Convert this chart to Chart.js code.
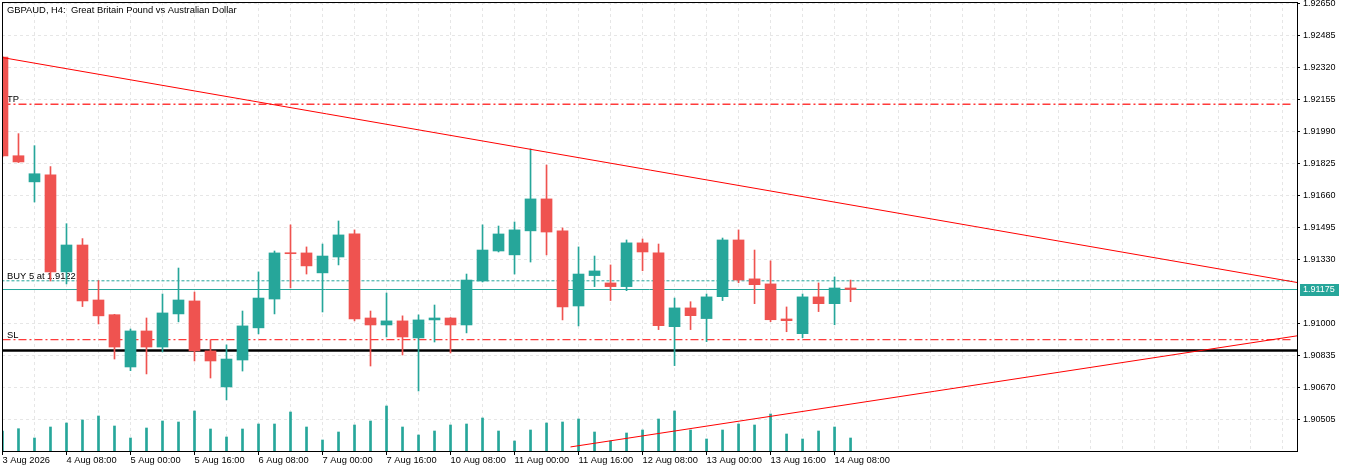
<!DOCTYPE html>
<html>
<head>
<meta charset="utf-8">
<title>GBPAUD H4</title>
<script src="https://cdn.jsdelivr.net/npm/chart.js@4.4.1/dist/chart.umd.min.js"></script>
<style>
  html, body { margin: 0; padding: 0; background: #fff; }
  #wrap { width: 1350px; height: 472px; position: relative; }
</style>
</head>
<body>
<div id="wrap"><canvas id="chart"></canvas></div>
<script>
// GBPAUD H4 candles, first bar 3 Aug 16:00
var open  = [1.92376, 1.91866, 1.91731, 1.91768, 1.91266, 1.91405, 1.91121, 1.91045, 1.90775, 1.90961,
             1.90878, 1.91049, 1.91116, 1.90858, 1.90672, 1.90811, 1.90977, 1.91126, 1.91364, 1.91364,
             1.91261, 1.91343, 1.91462, 1.91028, 1.90992, 1.91013, 1.90925, 1.91018, 1.91028, 1.90992,
             1.91219, 1.91374, 1.91354, 1.91478, 1.91643, 1.91478, 1.91090, 1.91247, 1.91209, 1.91190,
             1.91416, 1.91364, 1.90983, 1.91080, 1.91025, 1.91138, 1.91431, 1.91230, 1.91204, 1.91023,
             1.90947, 1.91137, 1.91102, 1.91183];
var high  = [1.92380, 1.91980, 1.91918, 1.91810, 1.91515, 1.91438, 1.91221, 1.91047, 1.90971, 1.91028,
             1.91152, 1.91286, 1.91162, 1.90915, 1.90889, 1.91064, 1.91266, 1.91374, 1.91509, 1.91395,
             1.91410, 1.91529, 1.91483, 1.91064, 1.91157, 1.91039, 1.91044, 1.91095, 1.91030, 1.91255,
             1.91509, 1.91503, 1.91524, 1.91901, 1.91818, 1.91493, 1.91395, 1.91348, 1.91302, 1.91431,
             1.91436, 1.91410, 1.91131, 1.91112, 1.91152, 1.91441, 1.91483, 1.91379, 1.91323, 1.91085,
             1.91152, 1.91209, 1.91240, 1.91224];
var low   = [1.91860, 1.91831, 1.91627, 1.91219, 1.91204, 1.91087, 1.90997, 1.90816, 1.90756, 1.90739,
             1.90853, 1.91008, 1.90806, 1.90718, 1.90605, 1.90754, 1.90946, 1.91049, 1.91183, 1.91255,
             1.91059, 1.91302, 1.91013, 1.90780, 1.90930, 1.90837, 1.90651, 1.90904, 1.90847, 1.90951,
             1.91214, 1.91369, 1.91255, 1.91317, 1.91354, 1.91018, 1.90987, 1.91190, 1.91118, 1.91169,
             1.91272, 1.90968, 1.90782, 1.90968, 1.90906, 1.91118, 1.91210, 1.91102, 1.91009, 1.90957,
             1.90926, 1.91061, 1.90993, 1.91112];
var close = [1.91865, 1.91834, 1.91773, 1.91266, 1.91405, 1.91116, 1.91039, 1.90878, 1.90961, 1.90878,
             1.91054, 1.91121, 1.90858, 1.90806, 1.90816, 1.90987, 1.91131, 1.91364, 1.91360, 1.91297,
             1.91348, 1.91457, 1.91023, 1.90992, 1.91013, 1.90930, 1.91018, 1.91028, 1.90992, 1.91224,
             1.91379, 1.91462, 1.91483, 1.91643, 1.91472, 1.91085, 1.91255, 1.91271, 1.91190, 1.91416,
             1.91369, 1.90988, 1.91080, 1.91040, 1.91137, 1.91431, 1.91224, 1.91200, 1.91019, 1.91014,
             1.91137, 1.91102, 1.91183, 1.91175];
// tick volume
var volume = [2000, 2230, 1300, 2400, 2800, 3100, 3500, 2500, 1300, 2300,
              3000, 2900, 4000, 2200, 1400, 2200, 2700, 2700, 3900, 2400,
              1100, 1900, 2600, 3000, 4500, 2400, 1600, 2000, 2600, 2700,
              3300, 2000, 1000, 2100, 2800, 2900, 3200, 1900, 1000, 1800,
              2100, 3200, 4000, 2100, 1200, 2100, 2700, 2600, 3700, 1700,
              1200, 2000, 2400, 1300];

// one time label every 4 bars
var timeLabels = ["3 Aug 2026", "4 Aug 08:00", "5 Aug 00:00", "5 Aug 16:00", "6 Aug 08:00",
                  "7 Aug 00:00", "7 Aug 16:00", "10 Aug 08:00", "11 Aug 00:00", "11 Aug 16:00",
                  "12 Aug 08:00", "13 Aug 00:00", "13 Aug 16:00", "14 Aug 08:00"];
var priceTicks = [1.92650, 1.92485, 1.92320, 1.92155, 1.91990, 1.91825, 1.91660, 1.91495,
                  1.91330, 1.91000, 1.90835, 1.90670, 1.90505];

// trade levels and objects
var tpLevel = 1.92132;
var buyLevel = 1.9122;
var slLevel = 1.90916;
var hLevel = 1.90860;
var lastPrice = 1.91175;
var trendUpper = [[0, 1.92373], [81, 1.91210]];
var trendLower = [[35.5, 1.90362], [81, 1.90937]];

var bull = '#26a69a', bear = '#ef5350';
var fontFamily = '"Liberation Sans", Arial, sans-serif';

var idx = open.map(function(v, i) { return i; });
var candleColor = open.map(function(o, i) { return close[i] >= o ? bull : bear; });

function pts(arr) {
    return arr.map(function(p) { return {x: p[0], y: p[1]}; });
}
function level(v, x2) {
    return [{x: -1, y: v}, {x: x2, y: v}];
}

var lineBase = {type: 'line', pointRadius: 0, borderWidth: 1, tension: 0, clip: 0, yAxisID: 'y', fill: false};

var overlay = {
    id: 'overlay',
    beforeDatasetsDraw: function(chart) {
        var c = chart.ctx, y = chart.scales.y, a = chart.chartArea;
        c.save();
        c.font = '9.4px ' + fontFamily;
        c.fillStyle = '#000';
        c.textBaseline = 'alphabetic';
        c.fillText('TP', a.left + 5, y.getPixelForValue(tpLevel) - 2);
        c.fillText('BUY 5 at 1.9122', a.left + 5, y.getPixelForValue(buyLevel) - 2);
        c.fillText('SL', a.left + 5, y.getPixelForValue(slLevel) - 2);
        c.restore();
    },
    afterDraw: function(chart) {
        var c = chart.ctx, y = chart.scales.y, a = chart.chartArea;
        c.save();
        // frame
        c.strokeStyle = '#000';
        c.lineWidth = 1;
        c.strokeRect(a.left + 0.5, a.top + 0.5, a.right - a.left, a.bottom - a.top);
        // title
        c.font = '9.4px ' + fontFamily;
        c.fillStyle = '#000';
        c.textBaseline = 'alphabetic';
        c.fillText('GBPAUD, H4:  Great Britain Pound vs Australian Dollar', a.left + 5, a.top + 10.5);
        // last price tag
        var py = y.getPixelForValue(lastPrice);
        c.fillStyle = bull;
        c.fillRect(a.right + 3, Math.round(py) - 6, 39, 12);
        c.fillStyle = '#fff';
        c.font = '9px ' + fontFamily;
        c.textBaseline = 'middle';
        c.fillText(lastPrice.toFixed(5), a.right + 6, Math.round(py));
        c.restore();
    }
};

var ctx = document.getElementById('chart');

var chart = new Chart(ctx, {
    type: 'bar',
    data: {
        datasets: [
            Object.assign({}, lineBase, {label: 'trend upper', data: pts(trendUpper), borderColor: '#ff0000', order: 0}),
            Object.assign({}, lineBase, {label: 'trend lower', data: pts(trendLower), borderColor: '#ff0000', order: 0}),
            {label: 'body', data: idx.map(function(i) { return {x: i, y: [open[i], close[i]]}; }),
             backgroundColor: candleColor, barThickness: 11, minBarLength: 1, grouped: false,
             borderWidth: 0, borderSkipped: false, order: 1, yAxisID: 'y'},
            {label: 'wick', data: idx.map(function(i) { return {x: i, y: [low[i], high[i]]}; }),
             backgroundColor: candleColor, barThickness: 1, grouped: false,
             borderWidth: 0, borderSkipped: false, order: 2, yAxisID: 'y'},
            {label: 'volume', data: idx.map(function(i) { return {x: i, y: volume[i]}; }),
             backgroundColor: bull, barThickness: 2, grouped: false,
             borderWidth: 0, order: 3, yAxisID: 'vol'},
            Object.assign({}, lineBase, {label: 'TP', data: level(tpLevel, 80.6), borderColor: '#ff3b3b', borderWidth: 1.3, borderDash: [8, 3, 2, 3], order: 4}),
            Object.assign({}, lineBase, {label: 'BUY', data: level(buyLevel, 80.6), borderColor: bull, borderDash: [3, 2], order: 4}),
            Object.assign({}, lineBase, {label: 'SL', data: level(slLevel, 80.6), borderColor: '#ff3b3b', borderWidth: 1.3, borderDash: [8, 3, 2, 3], order: 4}),
            Object.assign({}, lineBase, {label: 'price', data: level(lastPrice, 82), borderColor: bull, order: 4}),
            Object.assign({}, lineBase, {label: 'hline', data: level(hLevel, 82), borderColor: '#000', borderWidth: 2.4, order: 4})
        ]
    },
    options: {
        responsive: true,
        maintainAspectRatio: false,
        animation: false,
        events: [],
        layout: {padding: {left: 2, top: 2, right: 0, bottom: 0}},
        plugins: {legend: {display: false}, tooltip: {enabled: false}, title: {display: false}},
        scales: {
            x: {
                type: 'linear',
                min: -0.03,
                max: 80.9,
                offset: false,
                afterBuildTicks: function(s) {
                    var t = [];
                    for (var v = 0; v <= 80; v += 2) t.push({value: v});
                    s.ticks = t;
                },
                afterFit: function(s) {
                    s.height = 21;
                    s.paddingLeft = 0;
                    s.paddingRight = 0;
                },
                ticks: {
                    autoSkip: false,
                    maxRotation: 0,
                    minRotation: 0,
                    align: 'start',
                    padding: 0,
                    color: '#000',
                    font: {family: fontFamily, size: 9.3},
                    callback: function(v) {
                        return (v % 4 === 0 && timeLabels[v / 4]) ? timeLabels[v / 4] : '';
                    }
                },
                grid: {
                    color: '#e6e6e6',
                    offset: false,
                    tickLength: 4,
                    tickColor: function(c) {
                        var v = c.tick ? c.tick.value : -1;
                        return (v % 4 === 0 && timeLabels[v / 4]) ? '#000' : 'rgba(0,0,0,0)';
                    }
                },
                border: {display: false, dash: [3, 3]}
            },
            y: {
                type: 'linear',
                position: 'right',
                min: 1.90341,
                max: 1.92660,
                afterBuildTicks: function(s) {
                    s.ticks = priceTicks.map(function(v) { return {value: v}; });
                },
                afterFit: function(s) {
                    s.width = 53;
                    s.paddingTop = 0;
                    s.paddingBottom = 0;
                },
                ticks: {
                    padding: 3,
                    color: '#000',
                    font: {family: fontFamily, size: 9},
                    callback: function(v) { return v.toFixed(5); }
                },
                grid: {color: '#e6e6e6', tickLength: 3, tickColor: '#000'},
                border: {display: false, dash: [3, 3]}
            },
            vol: {
                type: 'linear',
                display: false,
                min: 0,
                max: 44900
            }
        }
    },
    plugins: [overlay]
});
</script>
</body>
</html>
